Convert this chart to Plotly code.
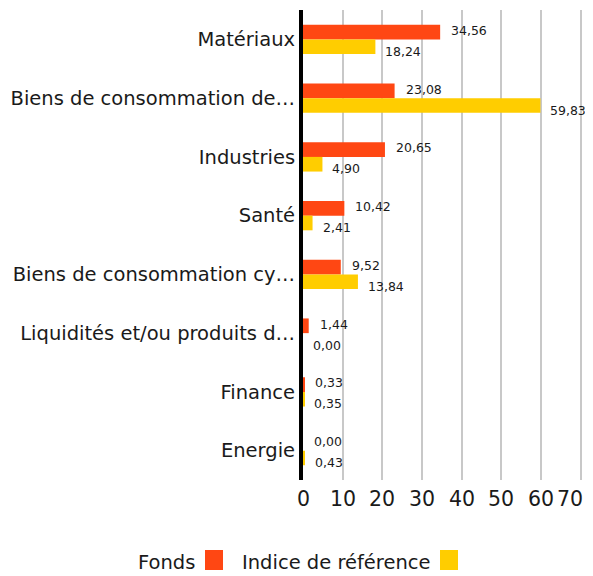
import plotly.graph_objects as go

categories = ["Matériaux", "Biens de consommation de…", "Industries", "Santé",
              "Biens de consommation cy…", "Liquidités et/ou produits d…",
              "Finance", "Energie"]
fonds = [34.56, 23.08, 20.65, 10.42, 9.52, 1.44, 0.33, 0.00]
indice = [18.24, 59.83, 4.90, 2.41, 13.84, 0.00, 0.35, 0.43]
x_ticks = [0, 10, 20, 30, 40, 50, 60, 70]
x_tick_labels = ["0", "10", "20", "30", "40", "50", "60", "70"]

ORANGE = "#FF4713"
YELLOW = "#FFCD00"
FONT = "DejaVu Sans"
TXT = "#1a1a1a"

# figure is placed at an 8px body offset in the page
OFF = 8
FIG_W, FIG_H = 593 - OFF, 576 - OFF
L, R, T, B = 303 - OFF, 11, 10 - OFF, 96

fig = go.Figure()
fig.add_trace(go.Bar(y=categories, x=fonds, orientation="h", name="Fonds",
                     marker=dict(color=ORANGE, line=dict(width=0)), hoverinfo="x"))
fig.add_trace(go.Bar(y=categories, x=indice, orientation="h", name="Indice de référence",
                     marker=dict(color=YELLOW, line=dict(width=0)), hoverinfo="x"))

def fmt(v):
    return f"{v:.2f}".replace(".", ",")

ann = []
for c, v in zip(categories, fonds):
    ann.append(dict(x=v, y=c, xref="x", yref="y", text=fmt(v), showarrow=False,
                    xanchor="left", yanchor="middle", xshift=9, yshift=9,
                    font=dict(family=FONT, size=12.5, color=TXT)))
for c, v in zip(categories, indice):
    ann.append(dict(x=v, y=c, xref="x", yref="y", text=fmt(v), showarrow=False,
                    xanchor="left", yanchor="middle", xshift=8, yshift=-12,
                    font=dict(family=FONT, size=12.5, color=TXT)))

# x tick labels drawn as annotations so the last one can stay inside the page
for i, (v, lab) in enumerate(zip(x_ticks, x_tick_labels)):
    last = i == len(x_ticks) - 1
    ann.append(dict(x=v, y=0, xref="x", yref="paper", text=lab, showarrow=False,
                    xanchor="right" if last else "center", yanchor="top",
                    xshift=4 if last else 0, yshift=-5,
                    font=dict(family=FONT, size=20.5, color=TXT)))

# custom legend (text then square), positions given in page pixels
W = FIG_W - L - R
H = FIG_H - T - B
def px(xp):
    return (xp - OFF - L) / W
def py(yp):
    return (FIG_H - B - (yp - OFF)) / H

ann.append(dict(x=px(197), y=py(562), xref="paper", yref="paper", text="Fonds",
                showarrow=False, xanchor="right", yanchor="middle",
                font=dict(family=FONT, size=19.5, color=TXT)))
ann.append(dict(x=px(433), y=py(562), xref="paper", yref="paper", text="Indice de référence",
                showarrow=False, xanchor="right", yanchor="middle",
                font=dict(family=FONT, size=19.5, color=TXT)))
shapes = [
    dict(type="rect", xref="paper", yref="paper", x0=px(205), x1=px(223), y0=py(570), y1=py(550),
         fillcolor=ORANGE, line=dict(width=0)),
    dict(type="rect", xref="paper", yref="paper", x0=px(440), x1=px(458), y0=py(570), y1=py(550),
         fillcolor=YELLOW, line=dict(width=0)),
]

fig.update_layout(
    width=FIG_W, height=FIG_H,
    margin=dict(l=L, r=R, t=T, b=B, autoexpand=False),
    paper_bgcolor="white", plot_bgcolor="white",
    barmode="group", bargap=0.5, bargroupgap=0,
    showlegend=False,
    annotations=ann, shapes=shapes,
    font=dict(family=FONT, color=TXT),
    xaxis=dict(range=[0, 70.3], tickvals=x_ticks, showticklabels=False,
               showgrid=True, gridcolor="#c8c8c8",
               gridwidth=2, zeroline=False, showline=False, ticks="",
               fixedrange=True),
    yaxis=dict(categoryorder="array", categoryarray=categories, autorange="reversed",
               showgrid=False, zeroline=False, showline=True, linecolor="black",
               linewidth=4, ticks="", ticklabelstandoff=0,
               tickfont=dict(family=FONT, size=19.5, color=TXT), fixedrange=True),
)

fig.write_html("out.html")
